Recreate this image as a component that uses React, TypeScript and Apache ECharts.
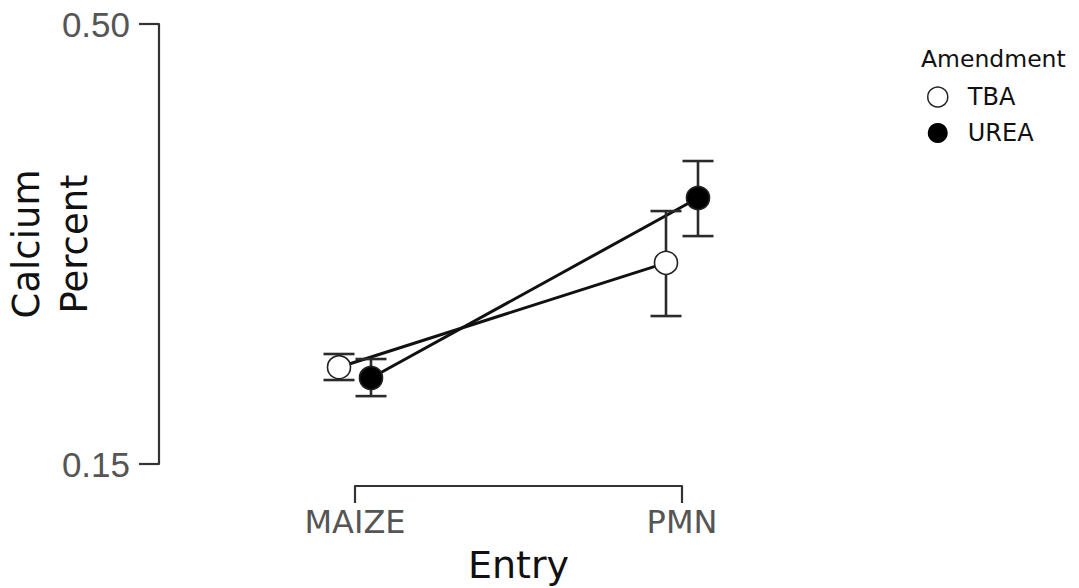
import React, { useEffect, useRef } from "react";
import * as echarts from "echarts";

const entries = ["MAIZE", "PMN"];
const amendments = ["TBA", "UREA"];
const tbaMean = [0.227, 0.31];
const tbaLow = [0.2168, 0.2677];
const tbaHigh = [0.2375, 0.3512];
const ureaMean = [0.2184, 0.3616];
const ureaLow = [0.204, 0.3313];
const ureaHigh = [0.2335, 0.391];
const yTicks = [0.15, 0.5];

const DODGE = 16;

function makeLineSeries(name: string, means: number[], dodge: number) {
  return {
    type: "custom",
    name: name + "-line",
    clip: false,
    silent: true,
    z: 1,
    encode: { x: 0, y: 1 },
    data: [[1, means[0]]],
    renderItem: (params: any, api: any) => {
      const points = means.map((m, i) => {
        const p = api.coord([i + 1, m]);
        return [p[0] + dodge, p[1]];
      });
      return {
        type: "polyline",
        shape: { points },
        style: { stroke: "#111", lineWidth: 3, fill: null },
      };
    },
  };
}

function makePointSeries(
  name: string,
  means: number[],
  lows: number[],
  highs: number[],
  dodge: number,
  fill: string
) {
  return {
    type: "custom",
    name,
    clip: false,
    z: 3,
    encode: { x: 0, y: 1 },
    itemStyle: { color: fill, borderColor: "#222" },
    data: entries.map((e, i) => [i + 1, means[i], lows[i], highs[i]]),
    renderItem: (params: any, api: any) => {
      const x = api.value(0);
      const c = api.coord([x, api.value(1)]);
      const lo = api.coord([x, api.value(2)]);
      const hi = api.coord([x, api.value(3)]);
      const cx = c[0] + dodge;
      const cap = 15.5;
      const es = { stroke: "#2b2b2b", lineWidth: 2.6 };
      return {
        type: "group",
        children: [
          { type: "line", shape: { x1: cx, y1: hi[1], x2: cx, y2: lo[1] }, style: es },
          { type: "line", shape: { x1: cx - cap, y1: hi[1], x2: cx + cap, y2: hi[1] }, style: es },
          { type: "line", shape: { x1: cx - cap, y1: lo[1], x2: cx + cap, y2: lo[1] }, style: es },
          {
            type: "circle",
            shape: { cx, cy: c[1], r: 11.5 },
            style: { fill, stroke: "#222", lineWidth: 1.6 },
          },
        ],
      };
    },
  };
}

export default function App() {
  const ref = useRef<HTMLDivElement>(null);
  useEffect(() => {
    if (!ref.current) return;
    const chart = echarts.init(ref.current, null, { renderer: "svg" });
    chart.setOption({
      animation: false,
      backgroundColor: "#fff",
      grid: {
        left: 355,
        right: 397,
        top: 24,
        bottom: 124,
        containLabel: false,
        outerBoundsMode: "none",
      },
      title: {
        text: "Amendment",
        left: 916,
        top: 42,
        textStyle: {
          fontFamily: "DejaVu Sans",
          fontSize: 23.5,
          fontWeight: "normal",
          color: "#111",
        },
      },
      legend: {
        orient: "vertical",
        left: 922,
        top: 80,
        itemWidth: 20,
        itemHeight: 20,
        itemGap: 12,
        selectedMode: false,
        textStyle: {
          fontFamily: "DejaVu Sans",
          fontSize: 24,
          color: "#111",
          padding: [0, 0, 0, 15],
        },
        data: [
          {
            name: amendments[0],
            icon: "circle",
            itemStyle: { color: "#fff", borderColor: "#222", borderWidth: 1.5 },
          },
          { name: amendments[1], icon: "circle", itemStyle: { color: "#000", borderWidth: 0 } },
        ],
      },
      xAxis: {
        type: "value",
        min: 1,
        max: 2,
        interval: 1,
        offset: 22,
        name: "Entry",
        nameLocation: "middle",
        nameGap: 60,
        nameMoveOverlap: false,
        nameTextStyle: { fontFamily: "DejaVu Sans", fontSize: 38, color: "#111" },
        axisLine: { show: true, lineStyle: { color: "#333", width: 2.2 } },
        axisTick: { show: true, length: 17, lineStyle: { color: "#333", width: 2.2 } },
        axisLabel: {
          margin: 20,
          fontFamily: "DejaVu Sans",
          fontSize: 32,
          color: "#555",
          formatter: (v: number) => entries[Math.round(v) - 1] ?? "",
        },
        splitLine: { show: false },
      },
      yAxis: {
        type: "value",
        min: 0.15,
        max: 0.5,
        offset: 196,
        name: "Calcium\nPercent",
        nameLocation: "middle",
        nameRotate: 90,
        nameGap: 61,
        nameMoveOverlap: false,
        nameTextStyle: {
          fontFamily: "DejaVu Sans",
          fontSize: 37,
          color: "#111",
          lineHeight: 48,
        },
        axisLine: { show: true, lineStyle: { color: "#333", width: 2.2 } },
        axisTick: {
          show: true,
          length: 20,
          customValues: yTicks,
          lineStyle: { color: "#333", width: 2.2 },
        },
        axisLabel: {
          margin: 29,
          fontFamily: "Liberation Sans",
          fontSize: 35,
          color: "#555",
          customValues: yTicks,
          formatter: (v: number) => v.toFixed(2),
        },
        splitLine: { show: false },
      },
      series: [
        makeLineSeries("TBA", tbaMean, -DODGE),
        makeLineSeries("UREA", ureaMean, DODGE),
        makePointSeries("TBA", tbaMean, tbaLow, tbaHigh, -DODGE, "#fff"),
        makePointSeries("UREA", ureaMean, ureaLow, ureaHigh, DODGE, "#000"),
      ],
    });
    return () => chart.dispose();
  }, []);
  return (
    <div
      ref={ref}
      style={{ position: "absolute", left: 0, top: 0, width: 1079, height: 588 }}
    />
  );
}
